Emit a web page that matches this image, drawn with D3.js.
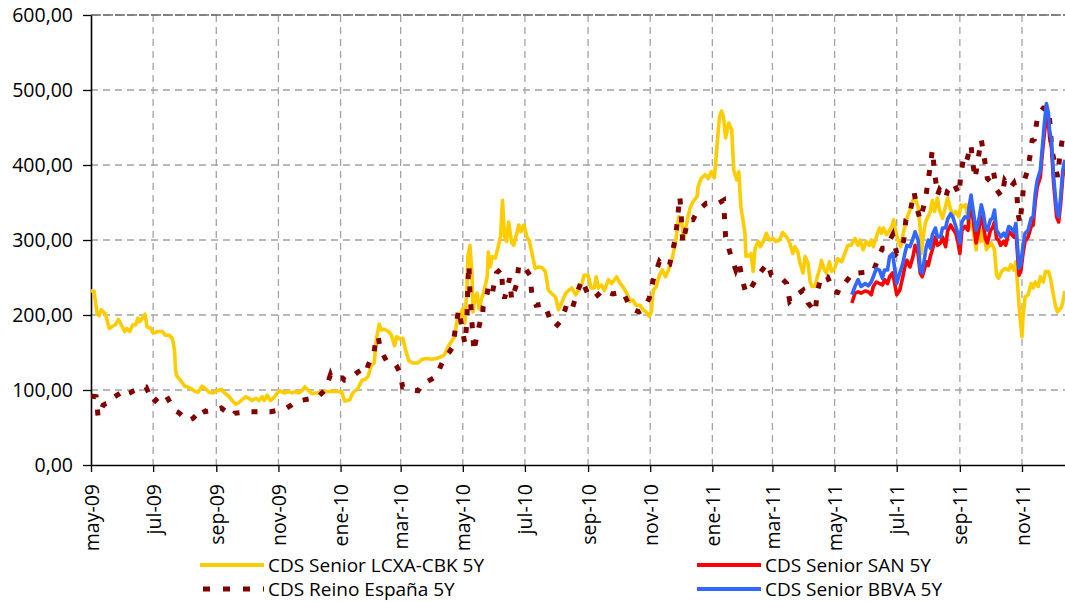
<!DOCTYPE html>
<html><head><meta charset="utf-8">
<script src="https://cdn.jsdelivr.net/npm/d3@7"></script>
<style>body{margin:0;background:#fff}svg{display:block}</style>
</head><body><svg id="c" width="1065" height="602"></svg>
<script>
// ---------- DATA ----------
const seriesNames = ["CDS Senior LCXA-CBK 5Y", "CDS Senior SAN 5Y", "CDS Reino España 5Y", "CDS Senior BBVA 5Y"];
const monthNames = ["ene","feb","mar","abr","may","jun","jul","ago","sep","oct","nov","dic"];
const xTickDates = ["2009-05-01","2009-07-01","2009-09-01","2009-11-01","2010-01-01","2010-03-01","2010-05-01","2010-07-01","2010-09-01","2010-11-01","2011-01-01","2011-03-01","2011-05-01","2011-07-01","2011-09-01","2011-11-01"];
const yTicks = [0,100,200,300,400,500,600];

const lcxaDates = [
"2009-05-01","2009-05-04","2009-05-07","2009-05-09","2009-05-11","2009-05-15","2009-05-19","2009-05-22","2009-05-25","2009-05-28","2009-05-30",
"2009-06-03","2009-06-05","2009-06-08","2009-06-11","2009-06-14","2009-06-16","2009-06-18","2009-06-23","2009-06-25","2009-06-28",
"2009-07-01","2009-07-06","2009-07-10","2009-07-13","2009-07-17","2009-07-20","2009-07-22","2009-07-23","2009-07-24","2009-07-26","2009-07-30",
"2009-08-01","2009-08-04","2009-08-07","2009-08-10","2009-08-14","2009-08-16","2009-08-18","2009-08-22","2009-08-25","2009-08-29",
"2009-09-02","2009-09-06","2009-09-09","2009-09-13","2009-09-16","2009-09-20","2009-09-23","2009-09-27","2009-09-30",
"2009-10-03","2009-10-06","2009-10-10","2009-10-13","2009-10-16","2009-10-18","2009-10-21","2009-10-24","2009-10-27","2009-10-31",
"2009-11-02","2009-11-07","2009-11-11","2009-11-14","2009-11-17","2009-11-21","2009-11-24","2009-11-27","2009-11-30",
"2009-12-04","2009-12-07","2009-12-10","2009-12-15","2009-12-20","2009-12-27",
"2010-01-02","2010-01-05","2010-01-10","2010-01-13","2010-01-18","2010-01-22","2010-01-25","2010-01-28","2010-01-31",
"2010-02-03","2010-02-05","2010-02-08","2010-02-10","2010-02-13","2010-02-17","2010-02-20","2010-02-23","2010-02-25","2010-02-28",
"2010-03-03","2010-03-06","2010-03-09","2010-03-13","2010-03-18","2010-03-22","2010-03-27","2010-03-31",
"2010-04-05","2010-04-09","2010-04-13","2010-04-16","2010-04-19","2010-04-23","2010-04-25","2010-04-27","2010-04-29",
"2010-05-01","2010-05-03","2010-05-05","2010-05-06","2010-05-08","2010-05-10","2010-05-11","2010-05-13","2010-05-15","2010-05-17","2010-05-20","2010-05-22","2010-05-25","2010-05-26","2010-05-28","2010-05-30",
"2010-06-02","2010-06-04","2010-06-07","2010-06-09","2010-06-11","2010-06-13","2010-06-15","2010-06-18","2010-06-20","2010-06-23","2010-06-25","2010-06-27","2010-06-30",
"2010-07-03","2010-07-05","2010-07-08","2010-07-11","2010-07-14","2010-07-18","2010-07-21","2010-07-24","2010-07-27","2010-07-31",
"2010-08-03","2010-08-06","2010-08-10","2010-08-13","2010-08-16","2010-08-20","2010-08-23","2010-08-26","2010-08-28",
"2010-09-01","2010-09-04","2010-09-07","2010-09-09","2010-09-11","2010-09-14","2010-09-17","2010-09-21","2010-09-24","2010-09-29",
"2010-10-02","2010-10-05","2010-10-09","2010-10-12","2010-10-15","2010-10-18","2010-10-22","2010-10-25","2010-10-28","2010-10-31",
"2010-11-02","2010-11-04","2010-11-07","2010-11-10","2010-11-13","2010-11-16","2010-11-19","2010-11-23","2010-11-26","2010-11-29",
"2010-12-02","2010-12-04","2010-12-07","2010-12-10","2010-12-13","2010-12-17","2010-12-18","2010-12-21","2010-12-25","2010-12-28","2010-12-31",
"2011-01-03","2011-01-06","2011-01-08","2011-01-10","2011-01-12","2011-01-14","2011-01-17","2011-01-20","2011-01-22","2011-01-25","2011-01-27","2011-01-29","2011-01-31",
"2011-02-02","2011-02-03","2011-02-04","2011-02-07","2011-02-08","2011-02-10","2011-02-12","2011-02-15","2011-02-17","2011-02-20","2011-02-23","2011-02-26",
"2011-03-02","2011-03-04","2011-03-08","2011-03-11","2011-03-15","2011-03-18","2011-03-21","2011-03-23","2011-03-26","2011-03-28","2011-03-31",
"2011-04-02","2011-04-05","2011-04-07","2011-04-09","2011-04-12","2011-04-14","2011-04-17","2011-04-18","2011-04-21","2011-04-23","2011-04-26","2011-04-28",
"2011-05-01","2011-05-04","2011-05-08","2011-05-11","2011-05-14","2011-05-17","2011-05-21","2011-05-24","2011-05-26","2011-05-29",
"2011-06-01","2011-06-04","2011-06-06","2011-06-08","2011-06-11","2011-06-14","2011-06-16","2011-06-18","2011-06-21","2011-06-24","2011-06-26","2011-06-28","2011-06-30",
"2011-07-03","2011-07-05","2011-07-08","2011-07-11","2011-07-14","2011-07-17","2011-07-19","2011-07-22","2011-07-24","2011-07-25","2011-07-27","2011-07-29","2011-07-31",
"2011-08-03","2011-08-05","2011-08-07","2011-08-10","2011-08-12","2011-08-15","2011-08-17","2011-08-20","2011-08-23","2011-08-25","2011-08-28","2011-08-31",
"2011-09-02","2011-09-04","2011-09-07","2011-09-09","2011-09-11","2011-09-14","2011-09-17","2011-09-19","2011-09-22","2011-09-24","2011-09-27","2011-09-29",
"2011-10-02","2011-10-05","2011-10-07","2011-10-09","2011-10-12","2011-10-15","2011-10-19","2011-10-21","2011-10-24","2011-10-26","2011-10-28","2011-10-30",
"2011-11-01","2011-11-02","2011-11-04","2011-11-07","2011-11-10","2011-11-12","2011-11-14","2011-11-17","2011-11-19","2011-11-22","2011-11-24","2011-11-27","2011-11-29",
"2011-12-01","2011-12-04","2011-12-06","2011-12-10","2011-12-12","2011-12-13"];
const lcxaValues = [
232,232,202,199,207,202,182,185,187,194,189,
178,182,178,187,187,196,191,201,184,183,
176,178,178,173,173,168,153,127,119,116,109,
105,104,102,99,97,101,105,101,97,96,
99,101,96,92,87,81,83,88,91,
89,86,89,86,91,86,93,86,89,96,
99,96,98,96,98,96,99,104,100,
95,96,96,98,98,98,
98,85,87,96,102,113,114,118,132,
136,167,188,180,181,178,173,159,171,168,
169,153,139,136,136,141,142,141,
142,144,147,156,163,171,189,202,198,
209,189,233,278,293,256,204,224,229,208,224,233,251,284,264,278,
276,287,304,353,304,298,324,296,293,309,320,311,320,
304,300,282,262,264,263,258,233,229,224,
207,216,229,233,236,227,234,242,253,
253,236,236,251,236,240,233,247,242,251,
243,238,229,218,220,213,213,207,204,198,
204,233,238,253,260,251,260,278,298,331,
322,302,324,342,351,358,371,382,387,382,391,
383,433,464,472,464,436,456,447,393,380,391,344,327,
309,278,280,278,282,258,289,298,291,298,309,300,
302,298,300,310,304,296,282,291,284,269,256,
278,269,244,238,238,251,264,273,260,256,271,258,
262,275,271,282,293,293,302,293,300,287,
298,293,300,291,304,316,309,316,307,313,318,327,311,
296,291,313,329,340,353,356,344,316,282,304,322,329,
338,353,338,356,340,329,340,356,340,333,338,331,
347,344,347,324,322,313,287,316,298,316,287,291,
296,287,253,249,258,262,260,267,260,271,233,198,
171,198,224,227,242,236,244,238,251,244,258,258,249,
233,211,204,211,224,232];

const spainDates = [
"2009-05-01","2009-05-06","2009-05-08","2009-05-13","2009-05-16","2009-05-21","2009-05-22","2009-05-30","2009-05-31",
"2009-06-08","2009-06-12","2009-06-21","2009-06-24","2009-07-01","2009-07-10","2009-07-14","2009-07-22","2009-07-26",
"2009-08-04","2009-08-09","2009-08-19","2009-08-21","2009-09-01","2009-09-06","2009-09-16","2009-09-19",
"2009-10-04","2009-10-07","2009-10-21","2009-10-25","2009-11-09","2009-11-14","2009-11-20","2009-11-23",
"2009-12-05","2009-12-09","2009-12-17","2009-12-22","2009-12-23",
"2010-01-03","2010-01-05","2010-01-08","2010-01-18","2010-01-22","2010-01-26","2010-01-28",
"2010-02-03","2010-02-05","2010-02-07","2010-02-09","2010-02-15","2010-02-18","2010-02-23","2010-02-25","2010-02-28",
"2010-03-03","2010-03-07","2010-03-12","2010-03-18","2010-03-23","2010-03-27",
"2010-04-05","2010-04-09","2010-04-13","2010-04-17","2010-04-21","2010-04-24","2010-04-27","2010-04-30",
"2010-05-03","2010-05-05","2010-05-06","2010-05-07","2010-05-08","2010-05-10","2010-05-12","2010-05-14","2010-05-18","2010-05-20","2010-05-21","2010-05-25","2010-05-26","2010-05-30",
"2010-06-03","2010-06-08","2010-06-09","2010-06-11","2010-06-16","2010-06-18","2010-06-23","2010-06-25",
"2010-07-01","2010-07-06","2010-07-08","2010-07-12","2010-07-20","2010-07-26","2010-07-31",
"2010-08-06","2010-08-12","2010-08-17","2010-08-21","2010-08-26",
"2010-09-01","2010-09-06","2010-09-11","2010-09-15","2010-09-25",
"2010-10-05","2010-10-13","2010-10-21","2010-10-25","2010-10-31",
"2010-11-04","2010-11-10","2010-11-14","2010-11-20","2010-11-26","2010-11-28","2010-11-30",
"2010-12-01","2010-12-02","2010-12-03","2010-12-08","2010-12-13","2010-12-17","2010-12-26","2010-12-30",
"2011-01-07","2011-01-12","2011-01-14","2011-01-19","2011-01-24","2011-01-27","2011-01-31",
"2011-02-03","2011-02-08","2011-02-15","2011-02-24","2011-02-28",
"2011-03-10","2011-03-15","2011-03-18","2011-03-25","2011-03-31",
"2011-04-05","2011-04-12","2011-04-14","2011-04-18","2011-04-24","2011-04-30",
"2011-05-04","2011-05-09","2011-05-12","2011-05-20","2011-05-24",
"2011-06-08","2011-06-14","2011-06-17","2011-06-20","2011-06-27",
"2011-07-01","2011-07-05","2011-07-08","2011-07-10","2011-07-14","2011-07-18","2011-07-21","2011-07-24","2011-07-29",
"2011-08-01","2011-08-05","2011-08-07","2011-08-10","2011-08-12","2011-08-18","2011-08-20","2011-08-26","2011-08-31",
"2011-09-02","2011-09-05","2011-09-08","2011-09-12","2011-09-13","2011-09-16","2011-09-19","2011-09-22","2011-09-25","2011-09-28",
"2011-10-01","2011-10-04","2011-10-07","2011-10-12","2011-10-15","2011-10-20","2011-10-24","2011-10-27","2011-10-28","2011-10-30",
"2011-11-01","2011-11-03","2011-11-06","2011-11-09","2011-11-11","2011-11-13","2011-11-16","2011-11-19","2011-11-22","2011-11-27","2011-11-29","2011-11-30",
"2011-12-06","2011-12-08","2011-12-11","2011-12-13"];
const spainValues = [
92,91,64,80,82,84,89,96,92,
96,99,104,104,83,95,92,73,70,
59,62,76,71,74,76,65,69,
71,71,71,71,76,80,86,86,
89,90,100,120,116,
116,113,113,124,127,123,133,
151,171,171,154,139,136,136,132,124,
104,104,100,99,110,111,
118,131,143,149,157,184,207,185,
162,189,242,267,231,190,151,167,191,191,211,229,238,229,
256,262,236,222,249,220,242,267,
263,253,225,213,215,193,184,
193,218,211,229,247,
227,222,227,233,228,
231,209,204,207,222,
247,271,264,267,304,331,358,
344,318,296,327,327,338,349,349,
349,353,304,280,260,271,244,
229,236,253,269,253,
249,242,218,227,233,
216,204,231,252,251,231,
230,244,244,258,256,
258,280,289,289,307,
282,287,300,327,336,364,342,327,353,
380,420,393,360,367,356,366,376,361,
387,413,407,427,409,382,409,434,409,382,
378,391,367,358,379,369,376,362,336,322,
349,378,391,413,433,434,462,471,476,476,447,422,
384,411,438,440];

const bankDates = [
"2011-05-18","2011-05-21","2011-05-24","2011-05-27","2011-05-31",
"2011-06-03","2011-06-06","2011-06-08","2011-06-11","2011-06-14","2011-06-17","2011-06-19","2011-06-22","2011-06-24","2011-06-27","2011-06-29",
"2011-07-01","2011-07-04","2011-07-07","2011-07-09","2011-07-11","2011-07-14","2011-07-17","2011-07-19","2011-07-22","2011-07-24","2011-07-26","2011-07-28","2011-07-30",
"2011-08-01","2011-08-03","2011-08-05","2011-08-08","2011-08-10","2011-08-13","2011-08-15","2011-08-18","2011-08-20","2011-08-23","2011-08-25","2011-08-28","2011-08-30",
"2011-09-01","2011-09-03","2011-09-06","2011-09-09","2011-09-10","2011-09-12","2011-09-14","2011-09-17","2011-09-19","2011-09-22","2011-09-24","2011-09-26","2011-09-28",
"2011-10-01","2011-10-03","2011-10-05","2011-10-07","2011-10-09","2011-10-11","2011-10-14","2011-10-16","2011-10-19","2011-10-21","2011-10-24","2011-10-26","2011-10-28","2011-10-29","2011-10-31",
"2011-11-02","2011-11-04","2011-11-07","2011-11-10","2011-11-12","2011-11-14","2011-11-16","2011-11-19","2011-11-21","2011-11-23","2011-11-25","2011-11-27","2011-11-28","2011-11-30",
"2011-12-02","2011-12-05","2011-12-07","2011-12-09","2011-12-11","2011-12-13"];
const sanValues = [
216,229,231,229,232,
231,227,238,244,242,240,247,242,251,256,242,
227,233,251,264,273,264,278,293,282,256,251,260,271,
266,278,287,304,293,296,304,291,312,320,315,309,298,
282,313,318,313,331,349,327,296,309,331,322,302,296,
313,316,324,302,300,293,298,293,311,309,304,313,273,253,260,
282,298,304,318,320,351,371,384,416,442,464,456,438,422,
376,331,324,349,384,400];
const bbvaValues = [
227,238,247,238,242,
239,244,251,262,260,249,260,260,278,282,262,
242,256,269,282,293,291,302,311,300,260,256,273,291,
300,289,307,316,304,304,316,316,328,335,331,318,309,
296,324,331,329,344,360,340,313,322,347,336,318,313,
327,329,340,313,309,304,309,304,318,316,311,322,284,262,269,
293,309,313,329,331,362,380,393,424,456,482,469,447,433,
384,340,331,358,393,407];

// ---------- CHART ----------
const parse = d3.timeParse("%Y-%m-%d");
const W = 1065, pLeft = 91, pRight = 1065.8, pTop = 15, pBottom = 465;
const svg = d3.select("#c");
const font = "'Open Sans', sans-serif";
const x = d3.scaleTime().domain([parse("2009-05-01"), parse("2011-12-14")]).range([pLeft, pRight]);
const y = d3.scaleLinear().domain([0, 600]).range([pBottom, pTop]);

const gridColor = "#a3a3a3";
const grid = svg.append("g");
grid.selectAll("line.h").data(yTicks.filter(v => v > 0)).join("line").attr("class","h")
  .attr("x1", pLeft).attr("x2", W).attr("y1", d => y(d)).attr("y2", d => y(d))
  .attr("stroke", gridColor).attr("stroke-width", 1.3).attr("stroke-dasharray", "7,5");
grid.selectAll("line.v").data(xTickDates.slice(1).map(parse)).join("line").attr("class","v")
  .attr("x1", d => x(d)).attr("x2", d => x(d)).attr("y1", pTop).attr("y2", pBottom)
  .attr("stroke", gridColor).attr("stroke-width", 1.3).attr("stroke-dasharray", "7,5");
svg.append("line").attr("x1", pLeft).attr("x2", W).attr("y1", y(600)).attr("y2", y(600))
  .attr("stroke", "#6e6e6e").attr("stroke-width", 1.4).attr("stroke-dasharray", "10,2");

const fmt = v => d3.format(".2f")(v).replace(".", ",");
const yAxis = svg.append("g").attr("transform", `translate(${pLeft},0)`)
  .call(d3.axisLeft(y).tickValues(yTicks).tickSize(8).tickSizeOuter(0).tickPadding(10).tickFormat(fmt));
yAxis.selectAll("text").attr("font-family", font).attr("font-size", "19.5px").attr("fill", "#000");
yAxis.select(".domain").attr("stroke", "#000").attr("stroke-width", 1.6);
yAxis.selectAll(".tick line").attr("stroke", "#000").attr("stroke-width", 1.3);

const xAxis = svg.append("g").attr("transform", `translate(0,${pBottom})`)
  .call(d3.axisBottom(x).tickValues(xTickDates.map(parse)).tickSize(7).tickSizeOuter(0)
    .tickFormat(d => monthNames[d.getMonth()] + "-" + String(d.getFullYear()).slice(2)));
xAxis.select(".domain").attr("stroke", "#000").attr("stroke-width", 1.6);
xAxis.selectAll(".tick line").attr("stroke", "#000").attr("stroke-width", 1.3);
xAxis.selectAll("text").attr("font-family", font).attr("font-size", "19.5px").attr("fill", "#000")
  .attr("transform", "rotate(-90)").attr("text-anchor", "end")
  .attr("x", -19).attr("y", 0).attr("dy", "0.36em");

svg.append("clipPath").attr("id", "plotclip").append("rect")
  .attr("x", pLeft).attr("y", 0).attr("width", W - pLeft).attr("height", pBottom);

const toPts = (dates, values) => dates.map((d, i) => ({ date: parse(d), value: values[i] }));
const line = d3.line().x(d => x(d.date)).y(d => y(d.value));
const series = [
  { pts: toPts(lcxaDates, lcxaValues), color: "#FFCC00", width: 3.6, dash: null },
  { pts: toPts(bankDates, sanValues), color: "#FF0000", width: 3.6, dash: null },
  { pts: toPts(spainDates, spainValues), color: "#800000", width: 5, dash: "6,12" },
  { pts: toPts(bankDates, bbvaValues), color: "#3366FF", width: 3.6, dash: null }
];
const plot = svg.append("g").attr("clip-path", "url(#plotclip)");
plot.selectAll("path.s").data(series).join("path").attr("class", "s")
  .attr("d", d => line(d.pts)).attr("fill", "none")
  .attr("stroke", d => d.color).attr("stroke-width", d => d.width)
  .attr("stroke-dasharray", d => d.dash).attr("stroke-linejoin", d => d.dash ? "miter" : "round");

// legend
const legendItems = [
  { name: seriesNames[0], color: "#FFCC00", dash: null, lx: 200, ly: 565 },
  { name: seriesNames[2], color: "#800000", dash: "7,13", lx: 200, ly: 589 },
  { name: seriesNames[1], color: "#FF0000", dash: null, lx: 697, ly: 565 },
  { name: seriesNames[3], color: "#3366FF", dash: null, lx: 697, ly: 589 }
];
const lg = svg.append("g").selectAll("g").data(legendItems).join("g");
lg.append("line").attr("x1", d => d.dash ? d.lx + 3 : d.lx).attr("x2", d => d.lx + 64).attr("y1", d => d.ly).attr("y2", d => d.ly)
  .attr("stroke", d => d.color).attr("stroke-width", d => d.dash ? 5 : 4).attr("stroke-dasharray", d => d.dash);
lg.append("text").attr("x", d => d.lx + 68).attr("y", d => d.ly).attr("dy", "0.35em")
  .attr("font-family", font).attr("font-size", "19px").attr("fill", "#000").text(d => d.name);
</script></body></html>
